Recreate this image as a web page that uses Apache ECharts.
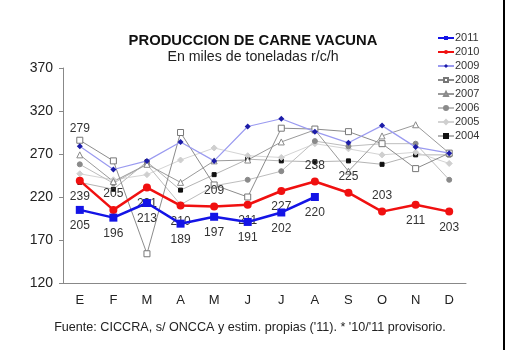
<!DOCTYPE html>
<html>
<head>
<meta charset="utf-8">
<script src="https://cdn.jsdelivr.net/npm/echarts@6/dist/echarts.min.js"></script>
<style>
  html, body { margin: 0; padding: 0; background: #fff; }
  #myChart { width: 507px; height: 350px; }
</style>
</head>
<body>
<div id="myChart"></div>
<script>
    var meses = ['E', 'F', 'M', 'A', 'M', 'J', 'J', 'A', 'S', 'O', 'N', 'D'];

    var v2011 = [205, 196, 213, 189, 197, 191, 202, 220];
    var v2010 = [239, 205, 231, 210, 209, 211, 227, 238, 225, 203, 211, 203];
    var v2009 = [279, 252, 262, 284, 262, 302, 311, 296, 283, 303, 278, 271];
    var v2008 = [286, 262, 154, 295, 234, 220, 300, 299, 296, 282, 253, 271];
    var v2007 = [269, 238, 258, 237, 262, 263, 284, 298, 250, 291, 304, 271];
    var v2006 = [258, 236, 258, 211, 233, 240, 250, 285, 279, 282, 282, 240];
    var v2005 = [247, 240, 246, 263, 277, 268, 266, 282, 276, 269, 272, 259];
    var v2004 = [237, 229, 261, 228, 246, 264, 262, 261, 262, 258, 269, 269];

    // posicion de las etiquetas de 2010 (arriba / abajo)
    var pos2010 = ['bottom', 'top', 'bottom', 'bottom', 'top', 'bottom', 'bottom', 'top', 'top', 'top', 'bottom', 'bottom'];

    var FONT = '"Liberation Sans", Arial, sans-serif';

    var myChart = echarts.init(document.getElementById('myChart'));

    function serieGris(name, data, lineColor, symbol, symbolSize, fill, border) {
        return {
            name: name,
            type: 'line',
            data: data,
            symbol: symbol,
            symbolSize: symbolSize,
            lineStyle: { color: lineColor, width: 1 },
            itemStyle: { color: fill, borderColor: border, borderWidth: 1 },
            emphasis: { disabled: true },
            z: 2
        };
    }

    function datos2010() {
        var out = [];
        for (var i = 0; i < v2010.length; i++) {
            out.push({ value: v2010[i], label: { position: pos2010[i] } });
        }
        return out;
    }

    function datos2009() {
        var out = [];
        for (var i = 0; i < v2009.length; i++) {
            if (i === 0) {
                out.push({ value: v2009[i], label: { show: true, position: 'top', distance: 9 } });
            } else {
                out.push(v2009[i]);
            }
        }
        return out;
    }

    var labelStyle = { fontFamily: FONT, fontSize: 12, color: '#333' };

    var option = {
        animation: false,
        backgroundColor: '#fff',
        title: [{
            text: 'PRODUCCION DE CARNE VACUNA',
            left: 248, top: 28, textAlign: 'center',
            textStyle: { fontFamily: FONT, fontSize: 14.8, fontWeight: 'bold', color: '#111' }
        }, {
            text: 'En miles de toneladas r/c/h',
            left: 248, top: 45, textAlign: 'center',
            textStyle: { fontFamily: FONT, fontSize: 14.2, fontWeight: 'normal', color: '#222' }
        }, {
            text: "Fuente: CICCRA, s/ ONCCA y estim. propias ('11). * '10/'11 provisorio.",
            left: 245, top: 316, textAlign: 'center',
            textStyle: { fontFamily: FONT, fontSize: 12.6, fontWeight: 'normal', color: '#222' }
        }],
        legend: {
            orient: 'vertical',
            left: 432, top: 27,
            itemWidth: 16, itemHeight: 5, itemGap: 2,
            data: ['2011', '2010', '2009', '2008', '2007', '2006', '2005', '2004'],
            textStyle: { fontFamily: FONT, fontSize: 11, color: '#333', lineHeight: 12, padding: [0, 0, 0, -4] }
        },
        grid: { left: 63, right: 41, top: 68, bottom: 67 },
        xAxis: {
            type: 'category',
            data: meses,
            boundaryGap: true,
            axisLine: { lineStyle: { color: '#888' } },
            axisTick: { inside: true, length: 4, lineStyle: { color: '#888' } },
            axisLabel: { margin: 11, fontFamily: FONT, fontSize: 13, color: '#222' }
        },
        yAxis: {
            type: 'value',
            min: 120, max: 370, interval: 50,
            splitLine: { show: false },
            axisLine: { show: true, lineStyle: { color: '#888' } },
            axisTick: { show: true, length: 4, lineStyle: { color: '#888' } },
            axisLabel: { margin: 10, fontFamily: FONT, fontSize: 14, color: '#222' }
        },
        series: [
            serieGris('2004', v2004, '#b4b4b4', 'rect', 4, '#111', '#111'),
            serieGris('2005', v2005, '#d4d4d4', 'diamond', 6, '#cfcfcf', '#cfcfcf'),
            serieGris('2006', v2006, '#bdbdbd', 'circle', 5, '#8a8a8a', '#8a8a8a'),
            serieGris('2007', v2007, '#9a9a9a', 'triangle', 6, '#fff', '#8a8a8a'),
            serieGris('2008', v2008, '#8c8c8c', 'rect', 6, '#fff', '#777'),
            {
                name: '2009',
                type: 'line',
                data: datos2009(),
                symbol: 'diamond',
                symbolSize: 6,
                lineStyle: { color: '#9a9af0', width: 1.2 },
                itemStyle: { color: '#1c1ca8' },
                label: labelStyle,
                emphasis: { disabled: true },
                z: 3
            },
            {
                name: '2010',
                type: 'line',
                data: datos2010(),
                symbol: 'circle',
                symbolSize: 8,
                lineStyle: { color: '#f01010', width: 2.5 },
                itemStyle: { color: '#f01010' },
                label: { show: true, distance: 6, fontFamily: FONT, fontSize: 12, color: '#333' },
                emphasis: { disabled: true },
                z: 4
            },
            {
                name: '2011',
                type: 'line',
                data: v2011,
                symbol: 'rect',
                symbolSize: 8,
                lineStyle: { color: '#1414e6', width: 2.5 },
                itemStyle: { color: '#1414e6' },
                label: { show: true, position: 'bottom', distance: 6, fontFamily: FONT, fontSize: 12, color: '#333' },
                emphasis: { disabled: true },
                z: 5
            }
        ],
        graphic: [{
            type: 'rect',
            shape: { x: 503, y: 0, width: 2, height: 350 },
            style: { fill: '#000' }
        }]
    };

    myChart.setOption(option);
</script>
</body>
</html>
